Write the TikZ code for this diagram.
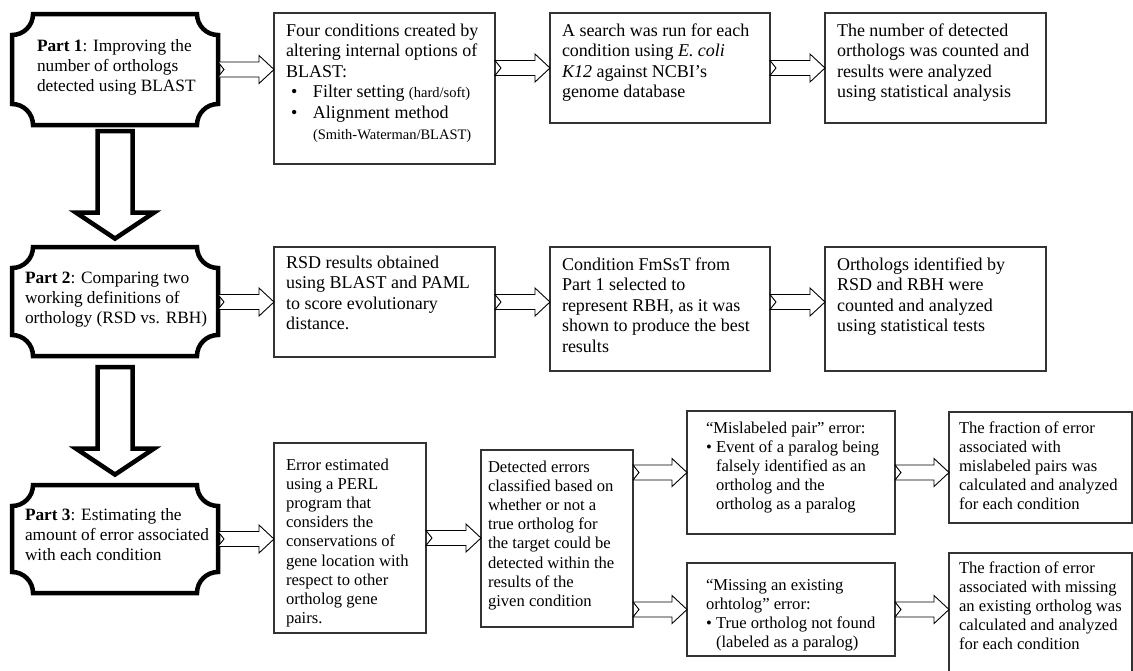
\documentclass[tikz,border=0pt]{standalone}
\usepackage{fontspec}
\setmainfont{Liberation Serif}
\usetikzlibrary{calc}
\newcommand\tstr{\rule{0pt}{14pt}}
\newcommand\smallt{\fontsize{14.5}{17}\selectfont}
\newcommand\bul[1]{\makebox[#1][l]{•}}
\newcommand\plaque[1]{\draw[partline] let \p1=(#1.north west), \p2=(#1.south east) in
  ({\x1+21pt},\y1) -- ({\x2-21pt},\y1) arc[start angle=180,end angle=270,radius=21pt]
  -- (\x2,{\y2+21pt}) arc[start angle=90,end angle=180,radius=21pt]
  -- ({\x1+21pt},\y2) arc[start angle=0,end angle=90,radius=21pt]
  -- (\x1,{\y1-21pt}) arc[start angle=270,end angle=360,radius=21pt] -- cycle;}
\newcommand\harrow[3]{\draw[thinarrow] let \p1=(#1.east), \p2=(#2.west), \p3=(#3.center) in
  (\x1,{\y3+7.5pt}) -- ({\x2-15pt},{\y3+7.5pt}) -- ({\x2-15pt},{\y3+14pt}) -- (\x2,\y3)
  -- ({\x2-15pt},{\y3-14pt}) -- ({\x2-15pt},{\y3-7.5pt}) -- (\x1,{\y3-7.5pt})
  -- ({\x1+6pt},\y3) -- cycle;}
\newcommand\varrow[4]{\draw[bigarrow] let \p1=(#1.south), \p2=(#2.north) in
  ({\x1-17.5pt},{\y1-#3}) -- ({\x1-17.5pt},{\y2+#4+26pt}) -- ({\x1-39pt},{\y2+#4+26pt})
  -- (\x1,{\y2+#4}) -- ({\x1+39pt},{\y2+#4+26pt}) -- ({\x1+17.5pt},{\y2+#4+26pt})
  -- ({\x1+17.5pt},{\y1-#3}) -- cycle;}
\tikzset{
  bx/.style={draw=black!80, line width=1.1pt, rectangle, inner sep=0pt, outer sep=0pt},
  pbox/.style={rectangle, inner sep=0pt, outer sep=0pt},
  partline/.style={line width=4.5pt, line join=miter, draw=black},
  thinarrow/.style={draw=black, line width=0.9pt, fill=white, line join=miter},
  bigarrow/.style={draw=black, line width=4.5pt, fill=white, line join=miter},
  txt/.style={inner sep=0pt, outer sep=0pt, align=left, anchor=north west},
  fA/.style={font=\fontsize{18}{20.6}\selectfont},
  fP/.style={font=\fontsize{17.3}{20}\selectfont},
  fC/.style={font=\fontsize{16.6}{19.2}\selectfont},
}
\begin{document}
\begin{tikzpicture}[x=1pt,y=-1pt]
\useasboundingbox[fill=white] (0,0) rectangle (1133,670);
% part boxes
\node[pbox, minimum width=206, minimum height=111] (P1) at (115,69.5) {};
\node[pbox, minimum width=206, minimum height=109] (P2) at (115,301.5) {};
\node[pbox, minimum width=206, minimum height=108] (P3) at (115,539) {};
\plaque{P1}\plaque{P2}\plaque{P3}
\node[txt, fP] (P1t) at ($(P1.north west)+(25,23)$) {\tstr\textbf{Part 1}: Improving the\\number of orthologs\\detected using BLAST};
\node[txt, fP] (P2t) at ($(P2.north west)+(13,22)$) {\tstr\textbf{Part 2}: Comparing two\\working definitions of\\orthology (RSD vs. RBH)};
\node[txt, fP] (P3t) at ($(P3.north west)+(13,21)$) {\tstr\textbf{Part 3}: Estimating the\\amount of error associated\\with each condition};
% boxes
\node[bx, minimum width=221, minimum height=151] (A) at (384.5,88.5) {};
\node[bx, minimum width=220, minimum height=110] (B) at (660,68) {};
\node[bx, minimum width=221, minimum height=110] (C) at (935.5,68) {};
\node[bx, minimum width=221, minimum height=110] (D) at (384.5,302) {};
\node[bx, minimum width=220, minimum height=124] (E) at (660,309) {};
\node[bx, minimum width=221, minimum height=124] (F) at (935.5,309) {};
\node[bx, minimum width=152, minimum height=190] (G) at (350,538) {};
\node[bx, minimum width=152, minimum height=177] (H) at (557,538.5) {};
\node[bx, minimum width=208, minimum height=123] (I) at (791,472.5) {};
\node[bx, minimum width=208, minimum height=93] (J) at (791,609.5) {};
\node[bx, minimum width=183, minimum height=111] (K) at (1040.5,467.5) {};
\node[bx, minimum width=183, minimum height=127] (L) at (1040.5,616.5) {};
% texts
\node[txt, fA] (At) at ($(A.north west)+(12,9)$) {\tstr Four conditions created by\\altering internal options of\\BLAST:\\\makebox[27pt][l]{\hspace{5pt}•}Filter setting {\smallt (hard/soft)}\\\makebox[27pt][l]{\hspace{5pt}•}Alignment method\\\hspace*{27pt}{\smallt (Smith-Waterman/BLAST)}};
\node[txt, fA] (Bt) at ($(B.north west)+(12,9)$) {\tstr A search was run for each\\condition using \textit{E. coli}\\\textit{K12} against NCBI’s\\genome database};
\node[txt, fA] (Ct) at ($(C.north west)+(12,9)$) {\tstr The number of detected\\orthologs was counted and\\results were analyzed\\using statistical analysis};
\node[txt, fA] (Dt) at ($(D.north west)+(12,7)$) {\tstr RSD results obtained\\using BLAST and PAML\\to score evolutionary\\distance.};
\node[txt, fA] (Et) at ($(E.north west)+(12,9)$) {\tstr Condition FmSsT from\\Part 1 selected to\\represent RBH, as it was\\shown to produce the best\\results};
\node[txt, fA] (Ft) at ($(F.north west)+(12,9)$) {\tstr Orthologs identified by\\RSD and RBH were\\counted and analyzed\\using statistical tests};
\node[txt, fC] (Gt) at ($(G.north west)+(12,13)$) {\tstr Error estimated\\using a PERL\\program that\\considers the\\conservations of\\gene location with\\respect to other\\ortholog gene\\pairs.};
\node[txt, fC] (Ht) at ($(H.north west)+(7,8)$) {\tstr Detected errors\\classified based on\\whether or not a\\true ortholog for\\the target could be\\detected within the\\results of the\\given condition};
\node[txt, fC] (It) at ($(I.north west)+(19,8)$) {\tstr “Mislabeled pair” error:\\\bul{10pt}Event of a paralog being\\\hspace*{10pt}falsely identified as an\\\hspace*{10pt}ortholog and the\\\hspace*{10pt}ortholog as a paralog};
\node[txt, fC] (Jt) at ($(J.north west)+(19,13)$) {\tstr “Missing an existing\\orhtolog” error:\\\bul{10pt}True ortholog not found\\\hspace*{10pt}(labeled as a paralog)};
\node[txt, fC] (Kt) at ($(K.north west)+(10,7)$) {\tstr The fraction of error\\associated with\\mislabeled pairs was\\calculated and analyzed\\for each condition};
\node[txt, fC] (Lt) at ($(L.north west)+(10,6)$) {\tstr The fraction of error\\associated with missing\\an existing ortholog was\\calculated and analyzed\\for each condition};
% arrows
\harrow{P1}{A}{P1}
\harrow{A}{B}{B}
\harrow{B}{C}{B}
\harrow{P2}{D}{D}
\harrow{D}{E}{D}
\harrow{E}{F}{D}
\harrow{P3}{G}{P3}
\harrow{G}{H}{G}
\harrow{H}{I}{I}
\harrow{H}{J}{J}
\harrow{I}{K}{I}
\harrow{J}{L}{J}
\varrow{P1}{P2}{6pt}{8.4pt}
\varrow{P2}{P3}{11pt}{10.4pt}
\end{tikzpicture}
\end{document}
